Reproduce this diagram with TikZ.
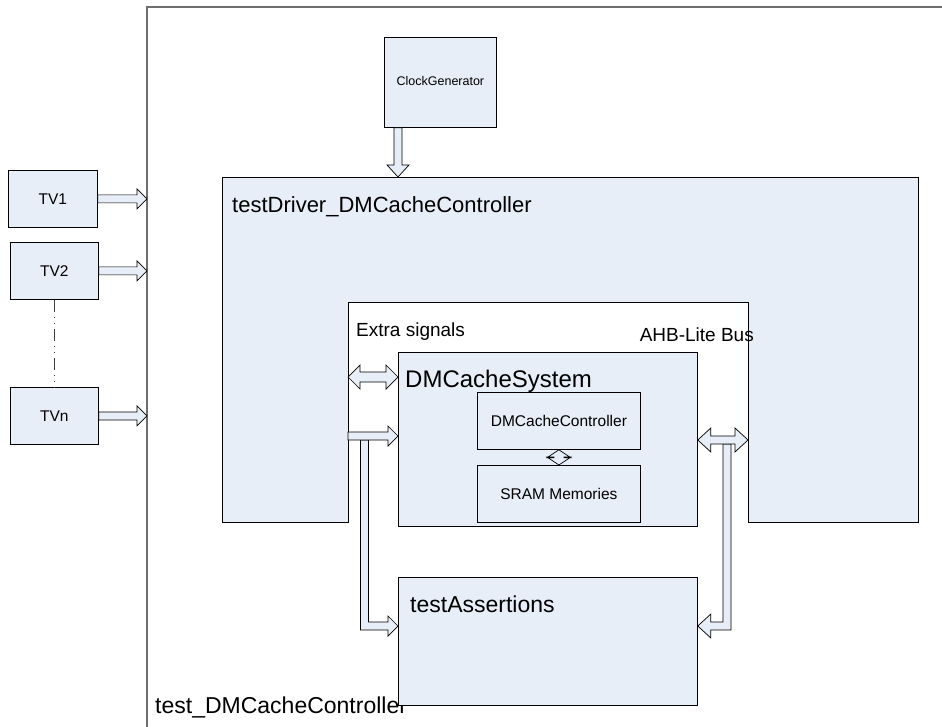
\documentclass[tikz,border=0pt]{standalone}
\usepackage{fontspec}
\setmainfont{Liberation Sans}
\usetikzlibrary{calc}

\definecolor{boxfill}{RGB}{232,238,247}
\definecolor{framegray}{RGB}{110,110,110}

\tikzset{
  box/.style={draw=black, fill=boxfill, line width=0.8pt, inner sep=0pt, anchor=north west},
  blk/.style={draw=black, fill=boxfill, line width=0.7pt, line join=miter},
  biglabel/.style={font=\fontsize{23}{27}\selectfont, inner sep=0pt},
  midlabel/.style={font=\fontsize{19}{23}\selectfont, inner sep=0pt},
  smalllabel/.style={font=\fontsize{15.5}{18}\selectfont},
}

% block arrows: #1 start, #2 tip, #3 shaft half-width, #4 head half-width, #5 head length
\newcommand\ArrowRight[5]{\draw[blk] let \p1=(#1), \p2=(#2) in
  (\x1,\y2+#3) -- (\x2-#5,\y2+#3) -- (\x2-#5,\y2+#4) -- (\x2,\y2) --
  (\x2-#5,\y2-#4) -- (\x2-#5,\y2-#3) -- (\x1,\y2-#3) -- cycle;}
\newcommand\ArrowDown[5]{\draw[blk] let \p1=(#1), \p2=(#2) in
  (\x2-#3,\y1) -- (\x2-#3,\y2+#5) -- (\x2-#4,\y2+#5) -- (\x2,\y2) --
  (\x2+#4,\y2+#5) -- (\x2+#3,\y2+#5) -- (\x2+#3,\y1) -- cycle;}
\newcommand\ArrowBothH[5]{\draw[blk] let \p1=(#1), \p2=(#2) in
  (\x1,\y1) -- (\x1+#5,\y1+#4) -- (\x1+#5,\y1+#3) -- (\x2-#5,\y1+#3) --
  (\x2-#5,\y1+#4) -- (\x2,\y1) -- (\x2-#5,\y1-#4) -- (\x2-#5,\y1-#3) --
  (\x1+#5,\y1-#3) -- (\x1+#5,\y1-#4) -- cycle;}
\newcommand\ArrowBothV[5]{\draw[blk] let \p1=(#1), \p2=(#2) in
  (\x1,\y1) -- (\x1+#4,\y1-#5) -- (\x1+#3,\y1-#5) -- (\x1+#3,\y2+#5) --
  (\x1+#4,\y2+#5) -- (\x1,\y2) -- (\x1-#4,\y2+#5) -- (\x1-#3,\y2+#5) --
  (\x1-#3,\y1-#5) -- (\x1-#4,\y1-#5) -- cycle;}
% bent arrows: down from #1, then sideways to the tip #2
\newcommand\ArrowDownRight[5]{\draw[blk] let \p1=(#1), \p2=(#2) in
  (\x1-#3,\y1) -- (\x1-#3,\y2-#3) -- (\x2-#5,\y2-#3) -- (\x2-#5,\y2-#4) --
  (\x2,\y2) -- (\x2-#5,\y2+#4) -- (\x2-#5,\y2+#3) -- (\x1+#3,\y2+#3) --
  (\x1+#3,\y1) -- cycle;}
\newcommand\ArrowDownLeft[5]{\draw[blk] let \p1=(#1), \p2=(#2) in
  (\x1+#3,\y1) -- (\x1+#3,\y2-#3) -- (\x2+#5,\y2-#3) -- (\x2+#5,\y2-#4) --
  (\x2,\y2) -- (\x2+#5,\y2+#4) -- (\x2+#5,\y2+#3) -- (\x1-#3,\y2+#3) --
  (\x1-#3,\y1) -- cycle;}

\begin{document}
\begin{tikzpicture}[x=1pt,y=-1pt]
\useasboundingbox (0,0) rectangle (942,727);
\fill[white] (0,0) rectangle (942,727);

% outer test bench frame
\coordinate (frame) at (147,7);
\draw[framegray, line width=1.3pt] (frame |- 0,727) -- (frame) -- (942,7);
\node[biglabel, anchor=base west] (tblabel) at (155,713) {test\_DMCacheController};

% test vectors
\node[box, minimum width=89pt, minimum height=57pt, smalllabel] (tv1) at (8,170) {TV1};
\node[box, minimum width=88pt, minimum height=57pt, smalllabel] (tv2) at (10,242) {TV2};
\node[box, minimum width=88pt, minimum height=57pt, smalllabel] (tvn) at (10,387) {TVn};
\draw[black!75, line width=0.8pt, dash pattern=on 12pt off 5pt on 1pt off 5pt on 1pt off 5pt]
  (tv2.south) -- (tvn.north);
\ArrowRight{tv1.east}{tv1.east -| frame}{4pt}{10pt}{10pt}
\ArrowRight{tv2.east}{tv2.east -| frame}{4pt}{10pt}{10pt}
\ArrowRight{tvn.east}{tvn.east -| frame}{4pt}{10pt}{10pt}

% clock generator
\node[box, minimum width=112pt, minimum height=90pt] (clk) at (384,37) {};
\node[font=\fontsize{12.5}{15}\selectfont, inner sep=0pt, anchor=base] (clklabel)
  at ($(clk.center)+(0,3)$) {ClockGenerator};

% test driver (U shape)
\node[box, minimum width=696pt, minimum height=345pt] (drv) at (222,177) {};
\coordinate (nl) at (348,302);
\coordinate (nr) at (748,302);
\fill[white] (nl) rectangle ($(nr |- drv.south)+(0,2)$);
\draw[black, line width=0.8pt] (nl |- drv.south) -- (nl) -- (nr) -- (nr |- drv.south);
\node[font=\fontsize{22}{26}\selectfont, inner sep=0pt, anchor=base west] (drvlabel) at (232,213) {testDriver\_DMCacheController};
\node[midlabel, anchor=base west] (xslabel) at (356,336) {Extra signals};
\node[midlabel, anchor=base east] (ahblabel) at (754,341) {AHB-Lite Bus};

\coordinate (clkout) at ($(clk.south west)+(14,0)$);
\ArrowDown{clkout}{clkout |- drv.north}{4pt}{11pt}{12pt}

% cache system
\node[box, minimum width=299pt, minimum height=174pt] (sys) at (398,352) {};
\node[font=\fontsize{24}{28}\selectfont, inner sep=0pt, anchor=base west] (syslabel) at (405,387) {DMCacheSystem};
\node[box, minimum width=163pt, minimum height=57pt, smalllabel] (ctrl) at (477,392) {DMCacheController};
\node[box, minimum width=163pt, minimum height=57pt, smalllabel] (sram) at (477,465) {SRAM Memories};
\ArrowBothV{ctrl.south}{sram.north}{5pt}{12pt}{8pt}

% assertions
\node[box, minimum width=299pt, minimum height=128pt] (ta) at (398,577) {};
\node[biglabel, anchor=base west] (talabel) at (410,612) {testAssertions};

% signal paths
\coordinate (xsL) at ($(nl)+(0,75)$);
\coordinate (inL) at ($(nl)+(0,134)$);
\coordinate (ahbR) at ($(nr)+(0,138)$);
\coordinate (taL) at ($(ta.north west)+(0,49)$);
\coordinate (taR) at ($(ta.north east)+(0,49)$);
\ArrowBothH{xsL}{xsL -| sys.west}{5pt}{12pt}{12pt}
\ArrowDownRight{$(inL)+(16.5,4)$}{taL}{4pt}{10pt}{10pt}
\ArrowRight{inL}{inL -| sys.west}{4pt}{10pt}{10pt}
\ArrowDownLeft{$(ahbR)+(-21,4)$}{taR}{4pt}{12pt}{13pt}
\ArrowBothH{ahbR -| sys.east}{ahbR}{4pt}{12pt}{13pt}
\end{tikzpicture}
\end{document}
